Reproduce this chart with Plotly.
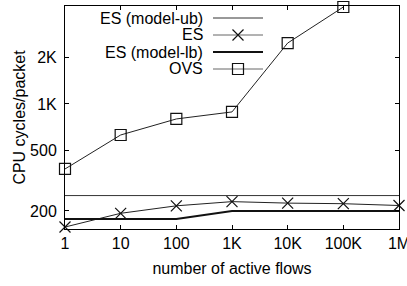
import plotly.graph_objects as go

flows = [1, 10, 100, 1000, 10000, 100000, 1000000]
flow_labels = ["1", "10", "100", "1K", "10K", "100K", "1M"]
es_model_ub = [252, 252, 252, 252, 252, 252, 252]
es = [157, 193, 216, 230, 225, 223, 217]
es_model_lb = [177, 177, 177, 200, 200, 200, 200]
ovs = [376, 627, 798, 887, 2500, 4300, None]
y_ticks = [200, 500, 1000, 2000]
y_labels = ["200", "500", "1K", "2K"]

FONT = "Liberation Sans, Arial, Helvetica, sans-serif"
fig = go.Figure()

fig.add_trace(go.Scatter(x=flows, y=es_model_ub, mode="lines",
                         line=dict(color="#333", width=1), cliponaxis=False))
fig.add_trace(go.Scatter(x=flows, y=es, mode="lines+markers",
                         line=dict(color="#222", width=1),
                         marker=dict(symbol="x-thin-open", size=11, color="#111",
                                     line=dict(width=1.2, color="#111")),
                         cliponaxis=False))
fig.add_trace(go.Scatter(x=flows, y=es_model_lb, mode="lines",
                         line=dict(color="#111", width=2), cliponaxis=False))
fig.add_trace(go.Scatter(x=flows, y=ovs, mode="lines+markers",
                         line=dict(color="#222", width=1),
                         marker=dict(symbol="square-open", size=11, color="#111",
                                     line=dict(width=1.2, color="#111")),
                         cliponaxis=False))

# manual gnuplot-style legend (text right, sample left-to-right on the right)
legend_names = ["ES (model-ub)", "ES", "ES (model-lb)", "OVS"]
row_px = [18, 35, 52, 69]
plot_l, plot_r, plot_t, plot_b = 65, 399, 6, 229
W = plot_r - plot_l
H = plot_b - plot_t
tx = (205 - plot_l) / W
lx0 = (213 - plot_l) / W
lx1 = (263 - plot_l) / W
styles = [
    dict(line=dict(color="#333", width=1), mode="lines", marker=None),
    dict(line=dict(color="#666", width=1), mode="lines", marker="x-thin-open"),
    dict(line=dict(color="#111", width=2), mode="lines", marker=None),
    dict(line=dict(color="#666", width=1), mode="lines", marker="square-open"),
]
for name, ypx, st in zip(legend_names, row_px, styles):
    yy = 1 - (ypx - plot_t) / H
    fig.add_annotation(x=tx, y=yy, xref="paper", yref="paper", text=name,
                       showarrow=False, xanchor="right", yanchor="middle",
                       font=dict(family=FONT, size=16, color="black"))
    fig.add_trace(go.Scatter(x=[lx0, lx1], y=[yy, yy], mode="lines", line=st["line"],
                             xaxis="x2", yaxis="y2", cliponaxis=False))
    if st["marker"]:
        fig.add_trace(go.Scatter(x=[(lx0 + lx1) / 2], y=[yy], mode="markers",
                                 marker=dict(symbol=st["marker"], size=11, color="#111",
                                             line=dict(width=1.2, color="#111")),
                                 xaxis="x2", yaxis="y2", cliponaxis=False))

axis_common = dict(showgrid=False, zeroline=False, showline=True, linecolor="black",
                   linewidth=1, mirror="ticks", ticks="inside", ticklen=4,
                   tickcolor="black", automargin=False, ticklabeloverflow="allow",
                   tickfont=dict(family=FONT, size=16, color="black"))

fig.update_layout(
    width=407, height=286,
    margin=dict(l=plot_l, r=407 - plot_r, t=plot_t, b=286 - plot_b),
    paper_bgcolor="white", plot_bgcolor="white",
    showlegend=False,
    font=dict(family=FONT, size=16, color="black"),
    xaxis=dict(type="log", range=[0, 6], tickvals=flows, ticktext=flow_labels,
               title=dict(text="number of active flows", standoff=11,
                          font=dict(family=FONT, size=16)),
               ticklabelstandoff=0, **axis_common),
    yaxis=dict(type="log", range=[2.183, 3.640], tickvals=y_ticks, ticktext=y_labels,
               title=dict(text="CPU cycles/packet", standoff=0,
                          font=dict(family=FONT, size=16)),
               ticklabelstandoff=4, **axis_common),
    xaxis2=dict(overlaying="x", range=[0, 1], visible=False),
    yaxis2=dict(overlaying="y", range=[0, 1], visible=False),
)

fig.write_html("out.html", config={"displayModeBar": False},
               post_script="document.body.style.margin='0';document.body.style.overflow='hidden';")
